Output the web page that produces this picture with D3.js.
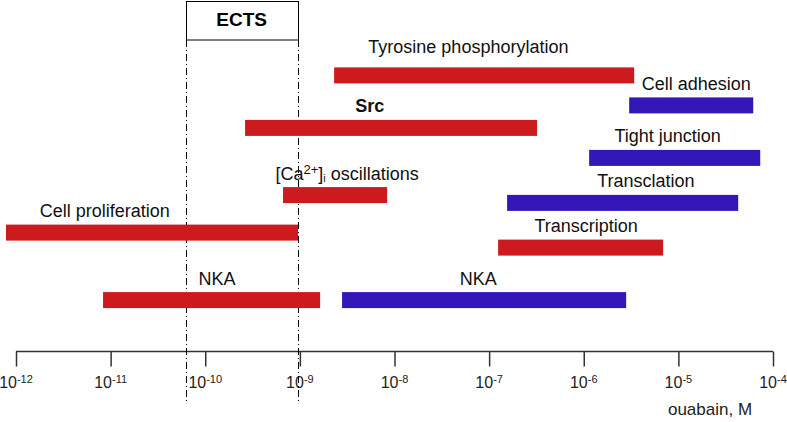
<!DOCTYPE html>
<html><head><meta charset="utf-8">
<script src="https://cdn.jsdelivr.net/npm/d3@7"></script>
<style>body{margin:0;background:#fff}svg{display:block}text{font-family:"Liberation Sans",Arial,sans-serif}</style>
</head><body>
<script>
// ---- data (concentrations as log10 M) ----
const names   = ["Tyrosine phosphorylation","Cell adhesion","Src","Tight junction","[Ca2+]i oscillations","Transclation","Cell proliferation","Transcription","NKA","NKA"];
const lows    = [-8.638,-5.520,-9.579,-5.943,-9.178,-6.810,-12.106,-6.905,-11.08,-8.554];
const highs   = [-5.467,-4.209,-6.493,-4.135,-8.078,-4.368,-9.019,-5.161,-8.786,-5.552];
const kinds   = ["red","blue","red","blue","red","blue","red","red","red","blue"];
const lanes   = [9.22,8.22,7.47,6.47,5.23,4.97,3.98,3.48,1.73,1.73];
const labelAt = [-7.219,-4.810,-8.261,-5.113,-8.50,-5.343,-11.062,-5.975,-9.875,-7.116];
const tickExps = [-12,-11,-10,-9,-8,-7,-6,-5,-4];
const ectsRange = [-10.208,-9.024];
const axisTitle = "ouabain, M";
const boxTitle = "ECTS";

const W=787,H=422;
const svg=d3.select("body").append("svg").attr("width",W).attr("height",H);
const x=d3.scaleLinear().domain([-12,-4]).range([16,773]);
const y=d3.scaleLinear().domain([0,10]).range([352,52]);
const color=d3.scaleOrdinal().domain(["red","blue"]).range(["#cc1a1f","#3316b8"]);
const barH=16;

// axis
const axis=d3.axisBottom(x).tickValues(tickExps).tickSize(15).tickFormat("");
const ag=svg.append("g").attr("transform","translate(0,351.5)").call(axis);
ag.select(".domain").attr("stroke","#333").attr("stroke-width",1.5).attr("d",`M${x(-12)},0H${x(-4)}`);
ag.selectAll(".tick line").attr("stroke","#333").attr("stroke-width",1.5);
const tl=svg.append("g").selectAll("text").data(tickExps).join("text")
  .attr("x",d=>x(d)).attr("y",388).attr("text-anchor","middle")
  .attr("font-size",16).attr("fill","#222");
tl.append("tspan").text("10");
tl.append("tspan").attr("font-size",11).attr("dy",-5).text(d=>"-"+Math.abs(d));
svg.append("text").attr("x",710).attr("y",415).attr("text-anchor","middle")
  .attr("font-size",17).attr("fill","#222").text(axisTitle);

// ECTS
svg.selectAll("line.ects").data(ectsRange).join("line").attr("class","ects")
  .attr("x1",d=>Math.round(x(d))+0.5).attr("x2",d=>Math.round(x(d))+0.5)
  .attr("y1",40).attr("y2",402).attr("stroke","#000").attr("stroke-width",1)
  .attr("stroke-dasharray","7,3,1,3");
svg.append("rect").attr("x",Math.round(x(ectsRange[0]))+0.5).attr("y",1.5)
  .attr("width",Math.round(x(ectsRange[1]))-Math.round(x(ectsRange[0]))).attr("height",38.5)
  .attr("fill","#fff").attr("stroke","#000").attr("stroke-width",1);
svg.append("text").attr("x",(x(ectsRange[0])+x(ectsRange[1]))/2).attr("y",26)
  .attr("text-anchor","middle").attr("font-size",19).attr("font-weight","bold").text(boxTitle);

// bars
const rows=names.map((n,i)=>({n,lo:lows[i],hi:highs[i],k:kinds[i],lane:lanes[i],lab:labelAt[i]}));
svg.append("g").selectAll("rect").data(rows).join("rect")
  .attr("x",d=>x(d.lo)).attr("width",d=>x(d.hi)-x(d.lo))
  .attr("y",d=>y(d.lane)-barH/2).attr("height",barH).attr("fill",d=>color(d.k));

// labels
const lg=svg.append("g").selectAll("text").data(rows).join("text")
  .attr("x",d=>x(d.lab)).attr("text-anchor","middle")
  .attr("y",d=>y(d.lane)-barH/2-(d.n.startsWith("Tyro")?14:7.5))
  .attr("font-size",18).attr("fill","#111")
  .attr("font-weight",d=>d.n==="Src"?"bold":"normal");
lg.each(function(d){
  const t=d3.select(this);
  if(d.n.startsWith("[Ca")){
    t.append("tspan").attr("fill","#111").text("[Ca");
    t.append("tspan").attr("fill","#111").attr("font-size",13).attr("dy",-6).text("2+");
    t.append("tspan").attr("fill","#111").attr("dy",6).text("]");
    t.append("tspan").attr("fill","#111").attr("font-size",11).attr("dy",2).text("i");
    t.append("tspan").attr("fill","#111").attr("dy",-2).text(" oscillations");
  } else t.text(d.n);
});
</script>
</body></html>
